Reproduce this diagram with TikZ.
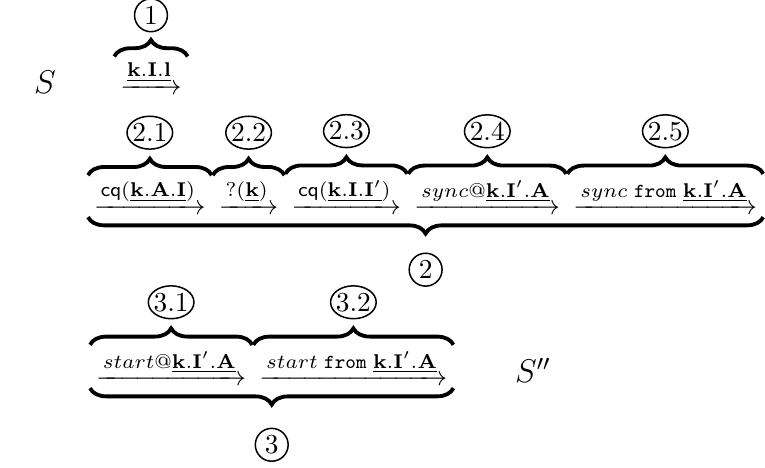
\documentclass[tikz,border=0pt]{standalone}
\usepackage{amsmath}
\usepackage{graphicx}
\usetikzlibrary{positioning,calc,decorations.pathreplacing,shapes.geometric}

\tikzset{
  arr/.style={inner xsep=2pt, inner ysep=0pt},
  state/.style={font=\large},
  num/.style={draw, line width=0.55pt, ellipse, inner xsep=-0.5pt, inner ysep=0pt,
    minimum width=12pt, minimum height=12pt},
  obrace/.style={decorate, decoration={brace, amplitude=6pt, raise=1.25pt}, line width=1.4pt},
  ubrace/.style={decorate, decoration={brace, mirror, amplitude=6pt, raise=0.6pt}, line width=1.4pt}
}
\newcommand{\kk}[1]{\underline{\mathbf{#1}}}
\newcommand{\lbl}[1]{\scalebox{1.04}{$\scriptstyle #1$}}

\begin{document}
\begin{tikzpicture}
  \useasboundingbox (0,0) rectangle (9.815,6.004);
  % states
  \node[state] (s) at (0.577,4.950) {$S$};
  \node[state] (s2) at (6.839,1.250) {$S''$};
  % step 1
  \node[arr, anchor=base] (a1) at (1.937,4.786) {$\xrightarrow{\lbl{\kk{k.I.l}}}$};
  % step 2
  \node[arr, anchor=base west] (a21) at (1.129,3.246) {$\xrightarrow{\lbl{\mathsf{cq}(\kk{k.A.I})}}$};
  \node[arr, base right=0.4pt of a21] (a22) {$\xrightarrow{\lbl{?(\kk{k})}}$};
  \node[arr, base right=0.4pt of a22] (a23) {$\xrightarrow{\lbl{\mathsf{cq}(\kk{k.I.I'})}}$};
  \node[arr, base right=0.4pt of a23] (a24) {$\xrightarrow{\lbl{sync\mathtt{@}\kk{k.I'.A}}}$};
  \node[arr, base right=0.4pt of a24] (a25) {$\xrightarrow{\lbl{sync\;\mathtt{from}\;\kk{k.I'.A}}}$};
  % step 3
  \node[arr, anchor=base west] (a31) at (1.155,1.052) {$\xrightarrow{\lbl{start\mathtt{@}\kk{k.I'.A}}}$};
  \node[arr, base right=0.4pt of a31] (a32) {$\xrightarrow{\lbl{start\;\mathtt{from}\;\kk{k.I'.A}}}$};
  % braces over the steps
  \foreach \a in {a1, a21, a22, a23, a24, a25, a31, a32}
    \draw[obrace] (\a.north west) -- (\a.north east);
  \draw[ubrace] (a21.south west) -- (a25.south east);
  \draw[ubrace] (a31.south west) -- (a32.south east);
  % numbers
  \node[num, above=10pt of a1] (n1) {1};
  \foreach \i in {1,...,5}
    \node[num, above=10.5pt of a2\i] (n2\i) {2.\i};
  \foreach \i in {1,2}
    \node[num, above=10.5pt of a3\i] (n3\i) {3.\i};
  \coordinate (m2) at ($(a21.south west)!0.5!(a25.south east)$);
  \coordinate (m3) at ($(a31.south west)!0.5!(a32.south east)$);
  \node[num, below=13.5pt of m2] (n2) {2};
  \node[num, below=15pt of m3] (n3) {3};
\end{tikzpicture}
\end{document}
